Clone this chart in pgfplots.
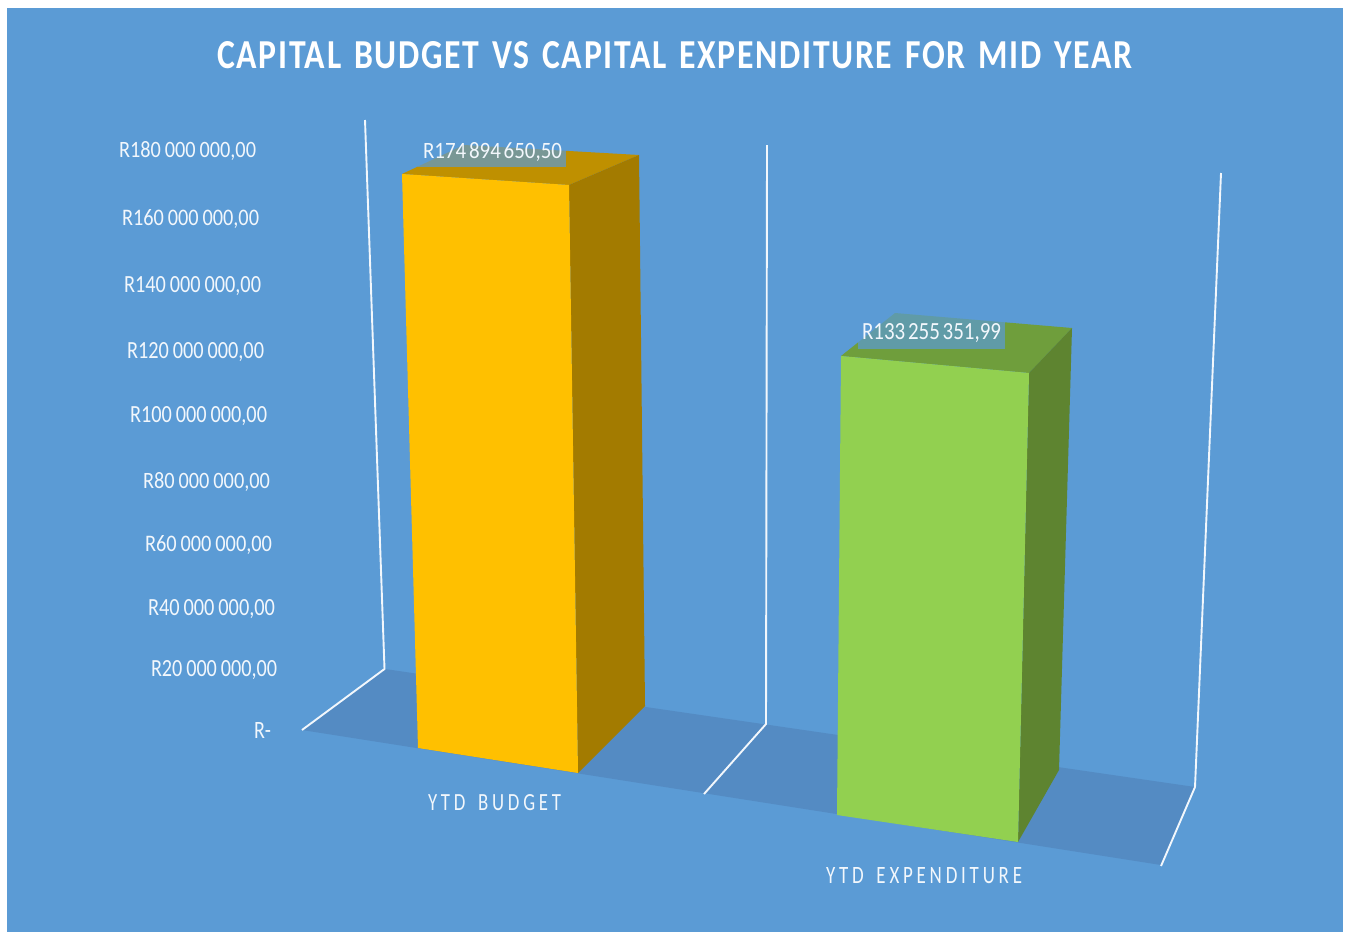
\documentclass[border=0pt]{standalone}
\usepackage{fontspec}
\setmainfont{Carlito}
\newfontfamily\catfont[LetterSpace=20]{Carlito}
\newfontfamily\titlefont[LetterSpace=5]{Carlito Bold}
\usepackage{graphicx}
\usepackage{pgfplots}
\pgfplotsset{compat=1.18}
\definecolor{bg}{HTML}{5B9BD5}
\definecolor{floorc}{HTML}{548BC3}
\definecolor{yfront}{HTML}{FFC000}
\definecolor{yside}{HTML}{A37B00}
\definecolor{ytop}{HTML}{BF9000}
\definecolor{gfront}{HTML}{92D050}
\definecolor{gside}{HTML}{5E8430}
\definecolor{gtop}{HTML}{6F9E3C}
\definecolor{txt}{HTML}{F2F7FC}
\newcommand{\ws}{\hspace{0.13em}}
\newcommand{\as}{\hspace{0.19em}}
\newcommand{\tws}{\hspace{0.38em}}
% label: left x, baseline y, width, cap height, text
\newcommand{\lbl}[5]{\node[anchor=base west,inner sep=0pt,outer sep=0pt,text=txt] at (axis cs:#1,#2) {\resizebox{#3pt}{#4pt}{#5}};}
\begin{document}
\begin{tikzpicture}
\begin{axis}[
  scale only axis, width=1348pt, height=932pt,
  xmin=0, xmax=1348, ymin=0, ymax=932, y dir=reverse,
  hide axis, clip=false,
]
% background
\addplot[fill=white,draw=none] coordinates {(0,0)(1348,0)(1348,932)(0,932)} --cycle;
\addplot[fill=bg,draw=none] coordinates {(7,8)(1343,8)(1343,932)(7,932)} --cycle;
% floor
\addplot[fill=floorc,draw=none] coordinates {(385,669)(302,730)(1161,865)(1195,787)} --cycle;
% walls
\addplot[white!92!bg,line width=1.9pt] coordinates {(365,120)(384.5,669)(302,730)};
\addplot[white!92!bg,line width=1.9pt] coordinates {(767,145)(766,724)(704,794)};
\addplot[white!92!bg,line width=1.9pt] coordinates {(1221,173)(1195,787)(1161,866)};
% YTD Budget bar
\addplot[fill=ytop,draw=none] coordinates {(402,174)(569,185)(639,155)(464,145)} --cycle;
\addplot[fill=yside,draw=none] coordinates {(569,185)(639,155)(645,706)(578,773)} --cycle;
\addplot[fill=yfront,draw=none] coordinates {(402,174)(569,185)(578,773)(418,748)} --cycle;
% YTD Expenditure bar
\addplot[fill=gtop,draw=none] coordinates {(841,356)(1029,373)(1072,328)(895,313)} --cycle;
\addplot[fill=gside,draw=none] coordinates {(1029,373)(1072,328)(1059,770)(1018,842)} --cycle;
\addplot[fill=gfront,draw=none] coordinates {(841,356)(1029,373)(1018,842)(837,815)} --cycle;
% data label backgrounds
\addplot[fill=bg,fill opacity=0.7,draw=none] coordinates {(418,138)(566,138)(566,167)(418,167)} --cycle;
\addplot[fill=bg,fill opacity=0.7,draw=none] coordinates {(858,310)(1005,310)(1005,349)(858,349)} --cycle;
% title
\node[anchor=base west,inner sep=0pt,text=white] at (axis cs:217,68) {\resizebox{915pt}{27pt}{\titlefont CAPITAL\tws BUDGET\tws VS\tws CAPITAL\tws EXPENDITURE\tws FOR\tws MID\tws YEAR}};
% value axis labels
\lbl{119}{157}{137}{16}{R180\as 000\as 000,00}
\lbl{122}{225}{137}{16}{R160\as 000\as 000,00}
\lbl{124}{292}{137}{16}{R140\as 000\as 000,00}
\lbl{127}{358}{137}{16}{R120\as 000\as 000,00}
\lbl{130}{422}{137}{16}{R100\as 000\as 000,00}
\lbl{143}{488}{127}{16}{R80\as 000\as 000,00}
\lbl{145}{551}{127}{16}{R60\as 000\as 000,00}
\lbl{148}{615}{127}{16}{R40\as 000\as 000,00}
\lbl{151}{676}{126}{16}{R20\as 000\as 000,00}
\lbl{254}{738}{17}{16}{R-}
% data labels
\lbl{423}{158}{139}{16}{R174\ws 894\ws 650,50}
\lbl{862}{339}{139}{16}{R133\ws 255\ws 351,99}
% categories
\lbl{428}{810}{133}{16}{\catfont YTD\hspace{0.25em} BUDGET}
\lbl{826}{883}{196}{16}{\catfont YTD\hspace{0.25em} EXPENDITURE}
\end{axis}
\end{tikzpicture}
\end{document}
